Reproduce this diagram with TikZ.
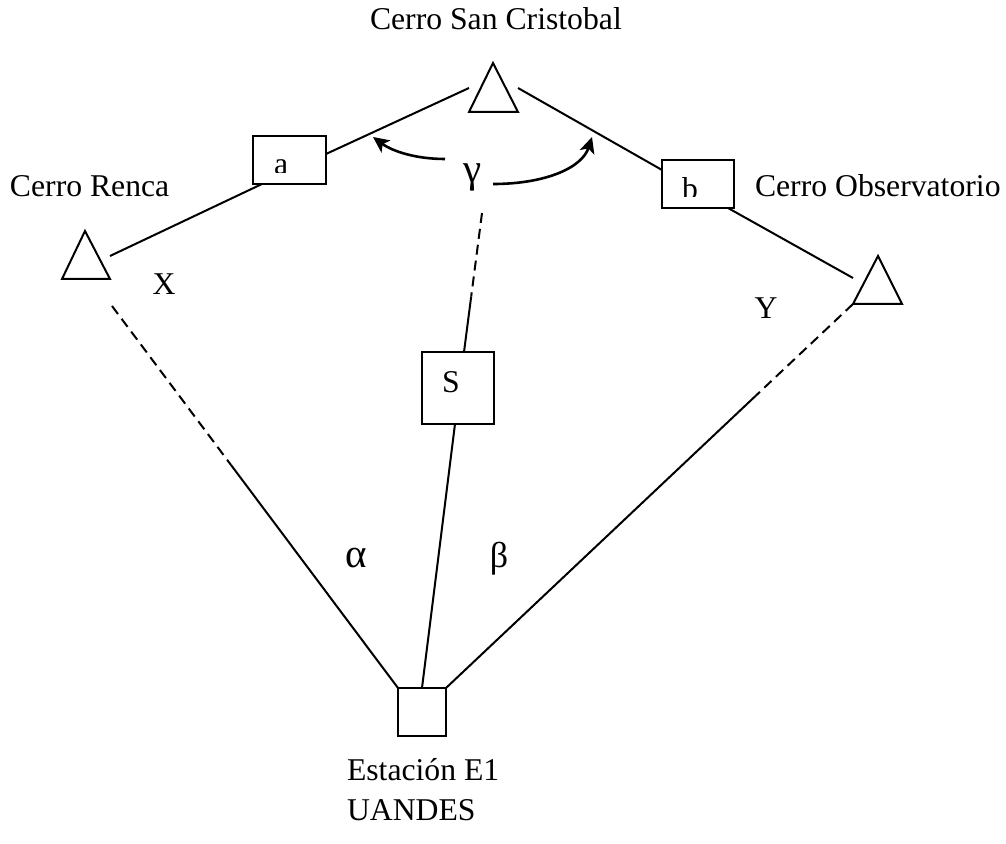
\documentclass[tikz,border=0pt]{standalone}
\usepackage{fontspec}
\setmainfont{Liberation Serif}
\usetikzlibrary{arrows.meta,calc}
\begin{document}
\begin{tikzpicture}[x=0.5pt,y=-0.5pt,
  ln/.style={line width=1pt},
  dsh/.style={line width=1pt,dash pattern=on 5pt off 3pt},
  box/.style={draw,line width=1pt,inner sep=0pt,outer sep=0pt,rectangle},
  txt/.style={inner sep=0pt,outer sep=0pt,font=\fontsize{15.85}{19}\selectfont},
  grk/.style={inner sep=0pt,outer sep=0pt,font=\fontsize{20.5}{24}\selectfont},
  tri/.style={draw,line width=1pt,line join=miter},
  arr/.style={line width=1.3pt,-{Stealth[length=8pt,width=7.5pt,inset=2pt]}}]
\useasboundingbox (0,0) rectangle (1006,844);

% triangles
\draw[tri] (493,63) -- (518,112) -- (469,112) -- cycle;
\draw[tri] (85,231) -- (110,279) -- (62,279) -- cycle;
\draw[tri] (878,256) -- (902,304) -- (853,304) -- cycle;

% boxes
\node[box,minimum width=36.5pt,minimum height=24pt] (a) at (289.5,160) {};
\node[box,minimum width=36pt,minimum height=24pt] (b) at (698,184) {};
\node[box,minimum width=36pt,minimum height=36pt] (S) at (458,388) {};
\node[box,minimum width=24pt,minimum height=24pt] (E) at (422,712) {};

% box letters (clipped as printed)
\begin{scope}
\clip (253,136) rectangle (326,173);
\node[txt,anchor=base west] (la) at (274,174.5) {a};
\end{scope}
\begin{scope}
\clip (662,160) rectangle (734,196.5);
\node[txt,anchor=base west] (lb) at (682,200) {b};
\end{scope}
\node[txt] (lS) at (451,382.5) {S};

% labels
\node[txt,anchor=base west] (tSC) at (370,30) {Cerro San Cristobal};
\node[txt,anchor=base west] (tRe) at (10,197) {Cerro Renca};
\node[txt,anchor=base west] (tOb) at (755,197) {Cerro Observatorio};
\node[txt,anchor=base west] (tE1) at (347,780) {Estación E1};
\node[txt,anchor=base west] (tUA) at (347,820) {UANDES};
\node[txt] (tX) at (164,284) {X};
\node[txt] (tY) at (766,308) {Y};
\node[grk] (gam) at (473,177.5) {γ};
\node[grk] (alp) at (356.5,558) {α};
\node[grk,font=\fontsize{18}{22}\selectfont] (bet) at (499,559) {β};

% free ends
\coordinate (scL) at (469,88);
\coordinate (scR) at (518,88);
\coordinate (reR) at (110,256);
\coordinate (reB) at (112,306);
\coordinate (obL) at (853,278);
\coordinate (obB) at (853,304);
\coordinate (gT) at (482,213);
\coordinate (gLa) at (445,159);
\coordinate (gRa) at (493,184);
\coordinate (tipL) at (373,137);
\coordinate (tipR) at (592,137);

% upper connectors
\draw[ln] (scL) -- ($(a.east)+(0,-6)$);
\draw[ln] ($(a.south west)+(9,0)$) -- (reR);
\draw[ln] (scR) -- ($(b.west)+(0,-14)$);
\draw[ln] ($(b.south east)+(-6,0)$) -- (obL);

% S line
\path ($(S.north)+(6,0)$) coordinate (Sn);
\path ($(Sn)!0.4!(gT)$) coordinate (Sm);
\draw[ln] (Sn) -- (Sm);
\draw[dsh] (gT) -- (Sm);
\draw[ln] ($(S.south)+(-3,0)$) -- (E.north);

% Renca to E1
\path ($(reB)!0.416!(E.north west)$) coordinate (rm);
\draw[dsh] (reB) -- (rm);
\draw[ln] (rm) -- (E.north west);

% Observatorio to E1
\path ($(obB)!0.239!(E.north east)$) coordinate (om);
\draw[dsh] (obB) -- (om);
\draw[ln] (om) -- (E.north east);

% gamma arrows
\draw[arr] (gLa) .. controls (415,159) and (392,151) .. (tipL);
\draw[arr] (gRa) .. controls (545,184) and (582,168) .. (tipR);
\end{tikzpicture}
\end{document}
